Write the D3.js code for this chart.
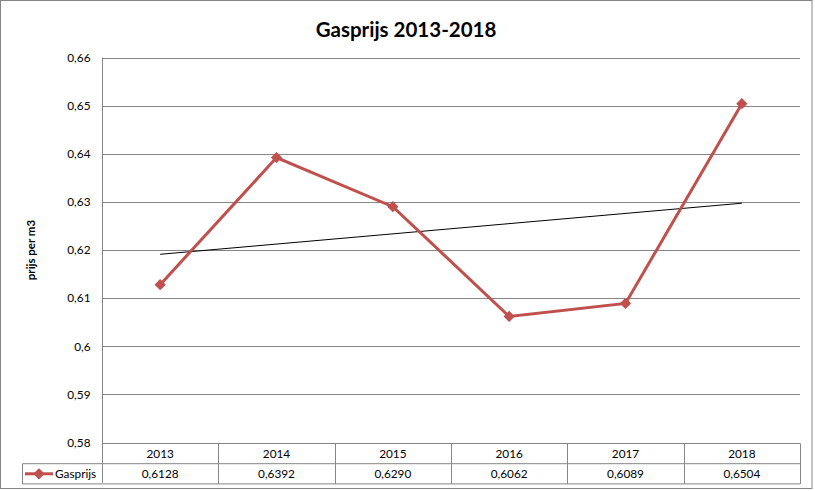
<!DOCTYPE html>
<html><head><meta charset="utf-8">
<script src="https://cdn.jsdelivr.net/npm/d3@7"></script>
<style>html,body{margin:0;padding:0;background:#fff;}svg{display:block;font-family:Lato,"Open Sans",sans-serif;}</style>
</head><body>
<svg id="c" width="815" height="491"></svg>
<script>
const years = ["2013","2014","2015","2016","2017","2018"];
const gasprijs = [0.6128,0.6392,0.6290,0.6062,0.6089,0.6504];
const yTicks = [0.58,0.59,0.60,0.61,0.62,0.63,0.64,0.65,0.66];
const seriesName = "Gasprijs";
const title = "Gasprijs 2013-2018";
const yLabel = "prijs per m3";

const nl = d3.formatLocale({decimal:",",thousands:".",grouping:[3],currency:["€",""]});
const tickFmt = nl.format("~g");
const valFmt = nl.format(".4f");

const svg = d3.select("#c");
const grid = "#868686", red = "#C0504D";
const L=102, R=800, T=57.5, B=442.5;
const rowH = 20.2;

svg.append("rect").attr("x",0.5).attr("y",0.5).attr("width",811.5).attr("height",488).attr("fill","#fff").attr("stroke",grid);

const x = d3.scaleBand().domain(years).range([L,R]).padding(0);
const y = d3.scaleLinear().domain([yTicks[0],yTicks[yTicks.length-1]]).range([B,T]);

// gridlines
svg.append("g").selectAll("line").data(yTicks).join("line")
  .attr("x1",L).attr("x2",R).attr("y1",d=>Math.round(y(d))+0.5).attr("y2",d=>Math.round(y(d))+0.5)
  .attr("stroke",grid).attr("stroke-width",1);

// y axis
const ya = svg.append("g").attr("transform",`translate(${L+0.5},0)`)
  .call(d3.axisLeft(y).tickValues(yTicks).tickFormat(tickFmt).tickSize(0).tickPadding(12));
ya.select(".domain").remove();
ya.selectAll("text").attr("font-size",11.8).attr("fill","#000").attr("font-family","Lato,sans-serif");
svg.append("line").attr("x1",L+0.5).attr("x2",L+0.5).attr("y1",T).attr("y2",B+2*rowH).attr("stroke",grid);

// title
svg.append("text").attr("x",406).attr("y",37).attr("text-anchor","middle")
  .attr("font-size",20.5).attr("font-weight","bold").text(title);
// y label
svg.append("text").attr("transform","translate(35,250) rotate(-90)").attr("text-anchor","middle")
  .attr("font-size",11.5).attr("font-weight","bold").text(yLabel);

// trend line (least squares)
const n=gasprijs.length, xm=(n-1)/2, ym=d3.mean(gasprijs);
const slope=d3.sum(gasprijs,(v,i)=>(i-xm)*(v-ym))/d3.sum(gasprijs,(v,i)=>(i-xm)*(i-xm));
const icpt=ym-slope*xm;
const cx = i=>x(years[i])+x.bandwidth()/2;
svg.append("line").attr("x1",cx(0)).attr("x2",cx(n-1)).attr("y1",y(icpt)).attr("y2",y(icpt+slope*(n-1)))
  .attr("stroke","#000").attr("stroke-width",1);

// series line
svg.append("path").datum(gasprijs)
  .attr("d",d3.line().x((d,i)=>cx(i)).y(d=>y(d)))
  .attr("fill","none").attr("stroke",red).attr("stroke-width",3);
const diamond = d3.symbol().type(d3.symbolDiamond2).size(80);
svg.append("g").selectAll("path").data(gasprijs).join("path")
  .attr("d",diamond).attr("transform",(d,i)=>`translate(${cx(i)},${y(d)})`).attr("fill",red);

// data table
const t = svg.append("g");
const yr0=Math.round(B)+0.5, yr1=yr0+rowH, yr2=yr1+rowH, tl=22.5;
t.append("line").attr("x1",L).attr("x2",R).attr("y1",yr0).attr("y2",yr0).attr("stroke",grid);
t.append("line").attr("x1",tl).attr("x2",R).attr("y1",yr1).attr("y2",yr1).attr("stroke",grid);
t.append("line").attr("x1",tl).attr("x2",R).attr("y1",yr2).attr("y2",yr2).attr("stroke",grid);
t.append("line").attr("x1",tl).attr("x2",tl).attr("y1",yr1).attr("y2",yr2).attr("stroke",grid);
t.selectAll(".vd").data(years).join("line").attr("class","vd")
  .attr("x1",d=>Math.round(x(d)+x.bandwidth())+0.5).attr("x2",d=>Math.round(x(d)+x.bandwidth())+0.5)
  .attr("y1",yr0).attr("y2",yr2).attr("stroke",grid);
t.selectAll(".yl").data(years).join("text").attr("class","yl")
  .attr("x",d=>x(d)+x.bandwidth()/2).attr("y",yr0+14.5).attr("text-anchor","middle").attr("font-size",11.8).text(d=>d);
t.selectAll(".vl").data(gasprijs).join("text").attr("class","vl")
  .attr("x",(d,i)=>cx(i)).attr("y",yr1+14.5).attr("text-anchor","middle").attr("font-size",11.8).text(d=>valFmt(d));
// legend key
t.append("line").attr("x1",25).attr("x2",53).attr("y1",yr1+rowH/2).attr("y2",yr1+rowH/2).attr("stroke",red).attr("stroke-width",3);
t.append("path").attr("d",diamond).attr("transform",`translate(39,${yr1+rowH/2})`).attr("fill",red);
t.append("text").attr("x",55).attr("y",yr1+14.5).attr("font-size",11.8).text(seriesName);
</script>
</body></html>
